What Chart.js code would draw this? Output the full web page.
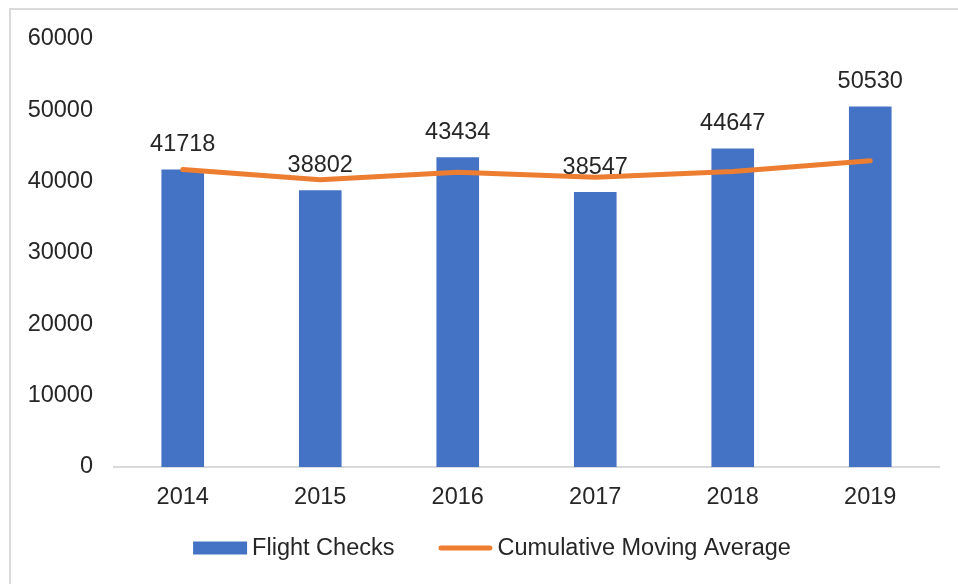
<!DOCTYPE html>
<html>
<head>
<meta charset="utf-8">
<script src="https://cdn.jsdelivr.net/npm/chart.js@4"></script>
<style>
  html, body { margin: 0; padding: 0; background: #fff; overflow: hidden; }
  #frame {
    position: absolute; left: 9px; top: 8px; width: 1000px; height: 700px;
    border-left: 2px solid #d9d9d9; border-top: 2px solid #d9d9d9;
  }
  #wrap { position: absolute; left: 0; top: 0; width: 958px; height: 584px; }
</style>
</head>
<body>
<div id="frame"></div>
<div id="wrap"><canvas id="chart" width="958" height="584"></canvas></div>
<script>
const years = ["2014", "2015", "2016", "2017", "2018", "2019"];
const flightChecks = [41718, 38802, 43434, 38547, 44647, 50530];
const movingAverage = [41718, 40260, 41318, 40625, 41430, 42946];
const yTicks = [0, 10000, 20000, 30000, 40000, 50000, 60000];

const textColor = "#262626";
const fontFamily = "'Liberation Sans', Arial, sans-serif";
const fontSize = 23.5;
const barColor = "#4472C4";
const lineColor = "#ED7D31";

// numbers above each bar
const barLabels = {
  id: "barLabels",
  afterDatasetsDraw(chart) {
    const ctx = chart.ctx;
    const meta = chart.getDatasetMeta(0);
    ctx.save();
    ctx.font = fontSize + "px " + fontFamily;
    ctx.fillStyle = textColor;
    ctx.textAlign = "center";
    ctx.textBaseline = "middle";
    meta.data.forEach((bar, i) => {
      ctx.fillText(String(flightChecks[i]), bar.x, bar.y - 25);
    });
    ctx.restore();
  }
};

// legend drawn by hand so the gaps match the original
const bottomLegend = {
  id: "bottomLegend",
  afterDraw(chart) {
    const ctx = chart.ctx;
    const y = 548;
    const keyW = 54;
    const gapText = 5;
    const gapItem = 44;
    const names = chart.data.datasets.map(d => d.label);
    ctx.save();
    ctx.font = fontSize + "px " + fontFamily;
    const widths = names.map(n => ctx.measureText(n).width);
    let total = 0;
    widths.forEach(w => total += keyW + gapText + w);
    total += gapItem;
    let x = 492 - total / 2;
    ctx.textBaseline = "middle";
    ctx.textAlign = "left";
    names.forEach((name, i) => {
      if (i === 0) {
        ctx.fillStyle = barColor;
        ctx.fillRect(x, y - 6.5, keyW, 13);
      } else {
        ctx.strokeStyle = lineColor;
        ctx.lineWidth = 5;
        ctx.lineCap = "round";
        ctx.beginPath();
        ctx.moveTo(x + 2.5, y);
        ctx.lineTo(x + keyW - 2.5, y);
        ctx.stroke();
      }
      ctx.fillStyle = textColor;
      ctx.fillText(name, x + keyW + gapText, y + 1);
      x += keyW + gapText + widths[i] + gapItem;
    });
    ctx.restore();
  }
};

new Chart(document.getElementById("chart"), {
  type: "bar",
  data: {
    labels: years,
    datasets: [
      {
        label: "Flight Checks",
        data: flightChecks,
        backgroundColor: barColor,
        borderWidth: 0,
        categoryPercentage: 1,
        barPercentage: 0.31,
        order: 1
      },
      {
        type: "line",
        label: "Cumulative Moving Average",
        data: movingAverage,
        borderColor: lineColor,
        backgroundColor: lineColor,
        borderWidth: 5,
        borderCapStyle: "round",
        borderJoinStyle: "round",
        pointRadius: 0,
        tension: 0,
        order: 0
      }
    ]
  },
  options: {
    responsive: false,
    animation: false,
    layout: { padding: { left: 0, right: 19, top: 39, bottom: 67 } },
    plugins: {
      tooltip: { enabled: false },
      legend: { display: false }
    },
    scales: {
      x: {
        grid: { display: false, drawTicks: false },
        border: { display: true, color: "#d9d9d9", width: 2 },
        ticks: { color: textColor, font: { family: fontFamily, size: fontSize }, padding: 16 },
        afterFit(scale) { scale.height = 50; }
      },
      y: {
        min: 0,
        max: 60000,
        afterBuildTicks(scale) { scale.ticks = yTicks.map(v => ({ value: v })); },
        grid: { display: false, drawTicks: false },
        border: { display: false },
        ticks: {
          color: textColor,
          font: { family: fontFamily, size: fontSize },
          padding: 21,
          callback: v => String(v)
        },
        afterFit(scale) { scale.width = 114; }
      }
    }
  },
  plugins: [barLabels, bottomLegend]
});
</script>
</body>
</html>
